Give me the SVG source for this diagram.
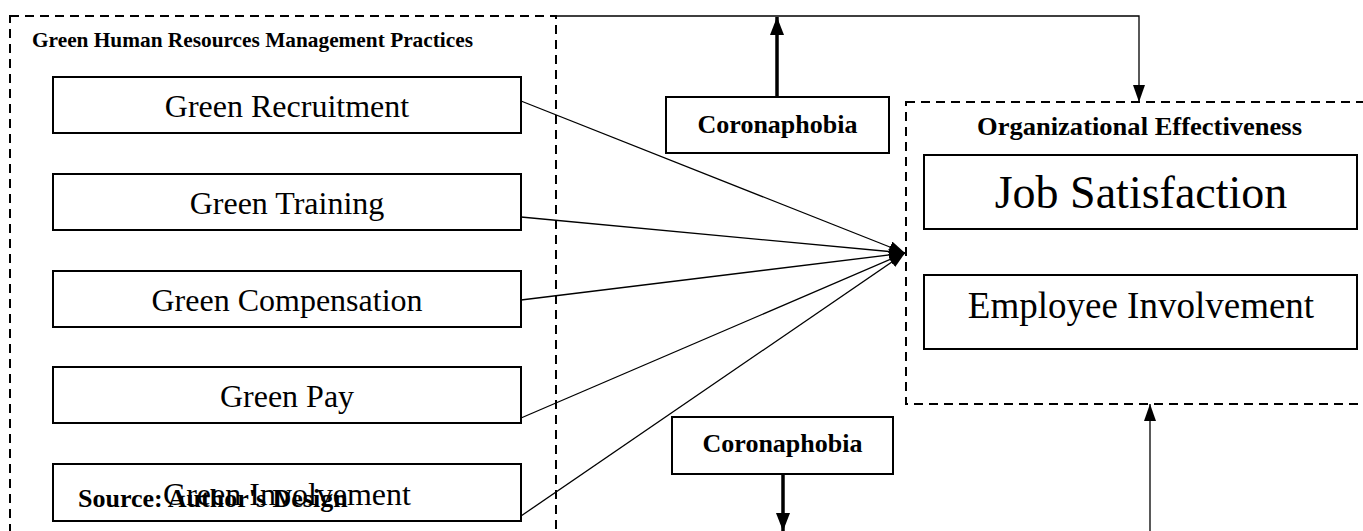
<svg xmlns="http://www.w3.org/2000/svg" width="1363" height="531" viewBox="0 0 1363 531">
<defs>
<style>
.dash{fill:none;stroke:#000;stroke-width:2;stroke-dasharray:9 6}
.box{fill:#fff;stroke:#000;stroke-width:2}
.t{font-family:"Liberation Serif","Times New Roman",serif;fill:#000;text-anchor:middle}
.b{font-family:"Liberation Serif","Times New Roman",serif;font-weight:bold;fill:#000}
.thin{fill:none;stroke:#000;stroke-width:1.3}
.thick{fill:none;stroke:#000;stroke-width:3.5}
</style>
<marker id="ah" markerUnits="userSpaceOnUse" markerWidth="16" markerHeight="12" refX="16" refY="6" orient="auto">
<path d="M0,0 L16,6 L0,12 z" fill="#000"/>
</marker>
<marker id="ahv" markerUnits="userSpaceOnUse" markerWidth="17" markerHeight="12" refX="17" refY="6" orient="auto">
<path d="M0,0 L17,6 L0,12 z" fill="#000"/>
</marker>
<marker id="ahk" markerUnits="userSpaceOnUse" markerWidth="18" markerHeight="14" refX="18" refY="7" orient="auto">
<path d="M0,0 L18,7 L0,14 z" fill="#000"/>
</marker>
</defs>
<rect width="1363" height="531" fill="#fff"/>

<g id="ghrm-group">
<rect class="dash" x="10" y="16" width="546" height="530"/>
<text class="b" x="32" y="47" font-size="21" textLength="441" lengthAdjust="spacingAndGlyphs">Green Human Resources Management Practices</text>
</g>

<g id="oe-group">
<rect class="dash" x="906" y="102" width="480" height="302"/>
<text class="b" x="1139.5" y="135" font-size="26" text-anchor="middle" textLength="325" lengthAdjust="spacingAndGlyphs">Organizational Effectiveness</text>
</g>

<g id="connectors">
<polyline class="thin" points="556,16 1139,16 1139,102" marker-end="url(#ahv)"/>
<line class="thin" x1="1150" y1="531" x2="1150" y2="404" marker-end="url(#ahv)"/>
<line class="thick" x1="777" y1="97" x2="777" y2="17" marker-end="url(#ahk)"/>
<line class="thick" x1="783" y1="475" x2="783" y2="531" marker-end="url(#ahk)"/>
<line class="thin" x1="521" y1="101" x2="905" y2="253" marker-end="url(#ah)"/>
<line class="thin" x1="521" y1="217" x2="905" y2="253" marker-end="url(#ah)"/>
<line class="thin" x1="521" y1="300" x2="905" y2="253" marker-end="url(#ah)"/>
<line class="thin" x1="521" y1="418" x2="905" y2="253" marker-end="url(#ah)"/>
<line class="thin" x1="521" y1="516" x2="905" y2="253" marker-end="url(#ah)"/>
</g>

<g id="green-recruitment">
<rect class="box" x="53" y="77" width="468" height="56"/>
<text class="t" x="287" y="117" font-size="32">Green Recruitment</text>
</g>
<g id="green-training">
<rect class="box" x="53" y="174" width="468" height="56"/>
<text class="t" x="287" y="214" font-size="32">Green Training</text>
</g>
<g id="green-compensation">
<rect class="box" x="53" y="271" width="468" height="56"/>
<text class="t" x="287" y="311" font-size="32">Green Compensation</text>
</g>
<g id="green-pay">
<rect class="box" x="53" y="367" width="468" height="56"/>
<text class="t" x="287" y="407" font-size="32">Green Pay</text>
</g>
<g id="green-involvement">
<rect class="box" x="53" y="464" width="468" height="57"/>
<text class="t" x="287" y="505" font-size="32">Green Involvement</text>
</g>

<g id="coronaphobia-top">
<rect class="box" x="666" y="97" width="223" height="56"/>
<text class="b" x="777.5" y="133" font-size="26" text-anchor="middle">Coronaphobia</text>
</g>
<g id="coronaphobia-bottom">
<rect class="box" x="672" y="417" width="221" height="57"/>
<text class="b" x="782.5" y="452" font-size="26" text-anchor="middle">Coronaphobia</text>
</g>

<g id="job-satisfaction">
<rect class="box" x="924" y="155" width="433" height="74"/>
<text class="t" x="1141" y="208" font-size="46">Job Satisfaction</text>
</g>
<g id="employee-involvement">
<rect class="box" x="924" y="275" width="433" height="74"/>
<text class="t" x="1141" y="318" font-size="37">Employee Involvement</text>
</g>

<g id="source">
<text class="b" x="78" y="507" font-size="26">Source: Author's Design</text>
</g>
</svg>
